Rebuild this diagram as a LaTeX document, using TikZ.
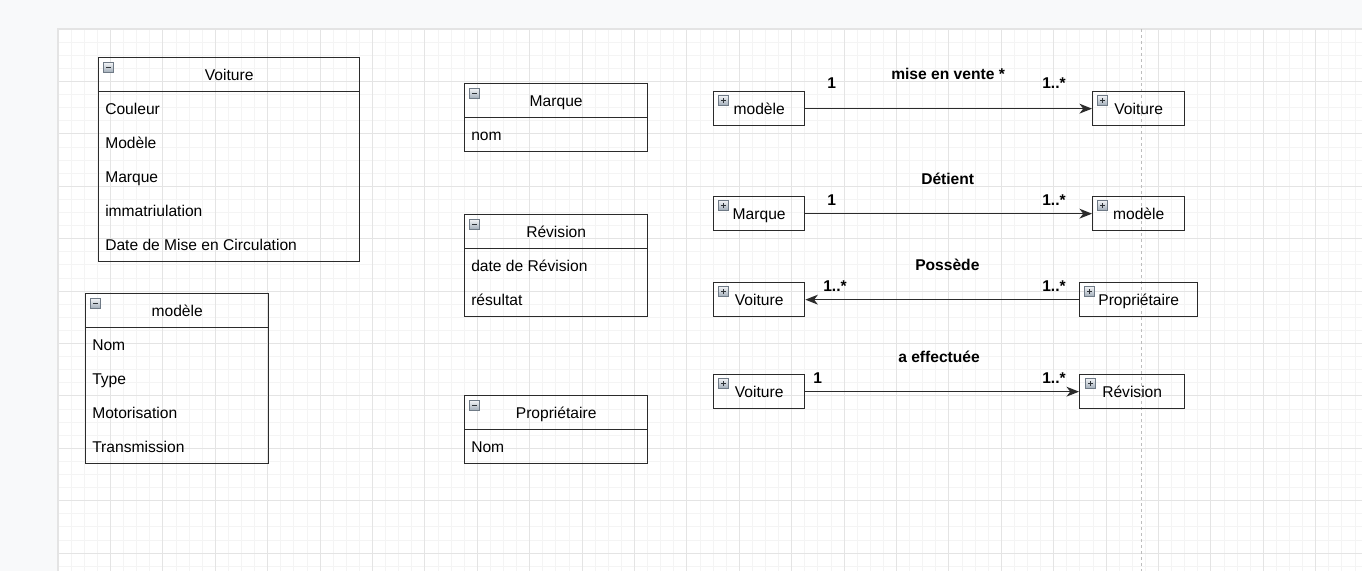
\documentclass[tikz,border=0pt]{standalone}
\usepackage{fontspec}
\setmainfont{Liberation Sans}
\usetikzlibrary{arrows.meta}
\definecolor{bgout}{HTML}{F8F9FA}
\definecolor{gridminor}{HTML}{F4F4F4}
\definecolor{gridmajor}{HTML}{E4E4E4}
\definecolor{boxline}{HTML}{2B2B2B}
\definecolor{pagebrk}{HTML}{BDBDBD}
\definecolor{pageedge}{HTML}{E4E4E4}
\definecolor{icontop}{HTML}{F2F4F6}
\definecolor{iconbot}{HTML}{A0ACB8}
\definecolor{iconedge}{HTML}{6F7A86}
\definecolor{icondark}{HTML}{2E3338}
\newcommand\myiconminus[2]{%
  \draw[top color=icontop, bottom color=iconbot, draw=iconedge, line width=0.6pt] (#1,#2) rectangle ++(10,10);
  \draw[icondark, line width=1.4pt] ({#1+2.5},{#2+5}) -- ++(5,0);}
\newcommand\myiconplus[2]{%
  \draw[top color=icontop, bottom color=iconbot, draw=iconedge, line width=0.6pt] (#1,#2) rectangle ++(10,10);
  \draw[icondark, line width=1.4pt] ({#1+2.5},{#2+5}) -- ++(5,0);
  \draw[icondark, line width=1.4pt] ({#1+5},{#2+2.5}) -- ++(0,5);}
\begin{document}
\begin{tikzpicture}[x=0.75pt,y=-0.75pt, font=\fontsize{11.7}{14}\selectfont,
  boxline/.style={draw=boxline, line width=1pt},
  hdrbox/.style={boxline, rectangle, anchor=north west, inner sep=0pt, minimum height=25.5pt, text height=9pt, text depth=0pt},
  bodybox/.style={boxline, rectangle, anchor=north west, inner sep=0pt},
  smallbox/.style={boxline, rectangle, anchor=north west, inner sep=0pt, minimum height=25.5pt, text height=9pt, text depth=0pt},
  attr/.style={anchor=base west, inner sep=0pt},
  lbl/.style={anchor=base west, inner sep=0pt, font=\fontsize{11.7}{14}\selectfont\bfseries},
  assoc/.style={draw=boxline, line width=1.05pt, -{Stealth[length=9.4pt, width=7.4pt, inset=2.8pt]}}]
\useasboundingbox (0,0) rectangle (1362,571);
% background and page
\fill[bgout] (0,0) rectangle (1362,571);
\fill[white] (58,29) rectangle (1362,571);
% grid
\foreach \i in {0,...,99} \draw[gridminor, line width=0.55pt] ({58+13.1*\i},29) -- ({58+13.1*\i},571);
\foreach \i in {0,...,41} \draw[gridminor, line width=0.55pt] (58,{29+13.1*\i}) -- (1362,{29+13.1*\i});
\foreach \i in {0,...,24} \draw[gridmajor, line width=0.6pt] ({58+52.4*\i},29) -- ({58+52.4*\i},571);
\foreach \i in {0,...,10} \draw[gridmajor, line width=0.6pt] (58,{29+52.4*\i}) -- (1362,{29+52.4*\i});
\draw[pageedge, line width=0.8pt] (58,571) -- (58,29) -- (1362,29);
% page break
\draw[pagebrk, line width=0.6pt, dash pattern=on 2.25pt off 2.25pt] (1141,29) -- (1141,571);

% ---- class Voiture
\node[hdrbox, minimum width=195.75pt] (cvh) at (98,57) {Voiture};
\node[bodybox, minimum width=195.75pt, minimum height=127.5pt] (cvb) at (98,91) {};
\myiconminus{103.5}{62.5}
\node[attr] (cv1) at (105,114) {Couleur};
\node[attr] (cv2) at (105,148) {Modèle};
\node[attr] (cv3) at (105,182) {Marque};
\node[attr] (cv4) at (105,216) {immatriulation};
\node[attr] (cv5) at (105,250) {Date de Mise en Circulation};

% ---- class modele
\node[hdrbox, minimum width=137.25pt] (cmh) at (85,293) {modèle};
\node[bodybox, minimum width=137.25pt, minimum height=102pt] (cmb) at (85,327) {};
\myiconminus{90.5}{298.5}
\node[attr] (cm1) at (92,350) {Nom};
\node[attr] (cm2) at (92,384) {Type};
\node[attr] (cm3) at (92,418) {Motorisation};
\node[attr] (cm4) at (92,452) {Transmission};

% ---- class Marque
\node[hdrbox, minimum width=137.25pt] (cah) at (464,83) {Marque};
\node[bodybox, minimum width=137.25pt, minimum height=25.5pt] (cab) at (464,117) {};
\myiconminus{469.5}{88.5}
\node[attr] (ca1) at (471,140) {nom};

% ---- class Revision
\node[hdrbox, minimum width=137.25pt] (crh) at (464,214) {Révision};
\node[bodybox, minimum width=137.25pt, minimum height=51pt] (crb) at (464,248) {};
\myiconminus{469.5}{219.5}
\node[attr] (cr1) at (471,271) {date de Révision};
\node[attr] (cr2) at (471,305) {résultat};

% ---- class Proprietaire
\node[hdrbox, minimum width=137.25pt] (cph) at (464,395) {Propriétaire};
\node[bodybox, minimum width=137.25pt, minimum height=25.5pt] (cpb) at (464,429) {};
\myiconminus{469.5}{400.5}
\node[attr] (cp1) at (471,452) {Nom};

% ---- associations: small boxes
\node[smallbox, minimum width=68.25pt] (s1a) at (713,91) {modèle};
\node[smallbox, minimum width=69pt] (s1b) at (1092,91) {Voiture};
\node[smallbox, minimum width=68.25pt] (s2a) at (713,196) {Marque};
\node[smallbox, minimum width=69pt] (s2b) at (1092,196) {modèle};
\node[smallbox, minimum width=68.25pt] (s3a) at (713,282) {Voiture};
\node[smallbox, minimum width=88.5pt] (s3b) at (1079,282) {Propriétaire};
\node[smallbox, minimum width=68.25pt] (s4a) at (713,374) {Voiture};
\node[smallbox, minimum width=78.75pt] (s4b) at (1079,374) {Révision};
\myiconplus{718.5}{95.5}
\myiconplus{1097.5}{95.5}
\myiconplus{718.5}{200.5}
\myiconplus{1097.5}{200.5}
\myiconplus{718.5}{286.5}
\myiconplus{1084.5}{286.5}
\myiconplus{718.5}{378.5}
\myiconplus{1085.5}{378.5}

% connectors
\draw[assoc] (s1a) -- (s1b);
\draw[assoc] (s2a) -- (s2b);
\draw[assoc] (s3b) -- (s3a);
\draw[assoc] (s4a) -- (s4b);

% labels
\node[lbl] (l1a) at (827,88.5) {1};
\node[lbl] (l1m) at (891,79.5) {mise en vente *};
\node[lbl] (l1b) at (1042,88.5) {1..*};
\node[lbl] (l2a) at (827,205) {1};
\node[lbl] (l2m) at (921,184.5) {Détient};
\node[lbl] (l2b) at (1042,205) {1..*};
\node[lbl] (l3a) at (823,291) {1..*};
\node[lbl] (l3m) at (915,270.5) {Possède};
\node[lbl] (l3b) at (1042,291) {1..*};
\node[lbl] (l4a) at (813,383.5) {1};
\node[lbl] (l4m) at (898,362.5) {a effectuée};
\node[lbl] (l4b) at (1042,383.5) {1..*};
\end{tikzpicture}
\end{document}
